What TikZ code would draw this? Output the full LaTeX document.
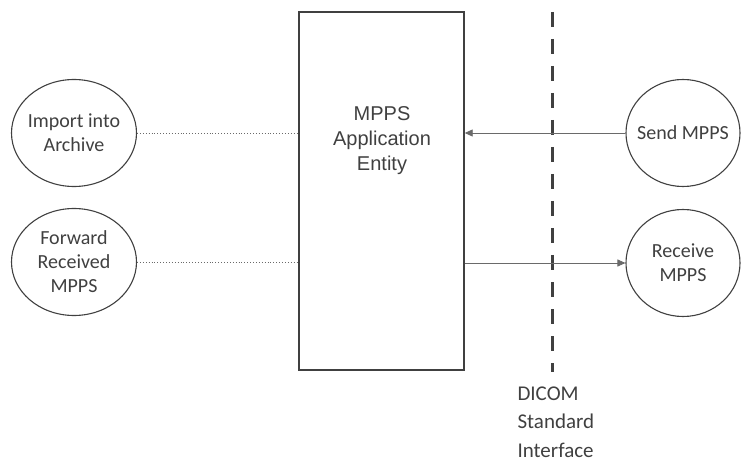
\documentclass[tikz,border=0pt]{standalone}
\usepackage{fontspec}
\setmainfont{Carlito}
\newfontfamily\arialfont{Liberation Sans}
\usetikzlibrary{shapes.geometric,arrows.meta}

\definecolor{inkgray}{HTML}{404040}
\definecolor{linegray}{HTML}{6A6A6A}

\tikzset{
  usecase/.style = {ellipse, draw = inkgray, line width = 1.1pt, text = inkgray,
    minimum width = 125pt, minimum height = 107pt, inner xsep = -20pt, inner ysep = 0pt,
    align = center, font = \fontsize{20}{24}\selectfont},
  flow/.style = {draw = linegray, line width = 0.9pt, -{Triangle[length = 8pt, width = 7pt]}},
  local/.style = {draw = linegray, line width = 0.9pt, dotted}
}

\begin{document}
\begin{tikzpicture}[x = 1pt, y = -1pt]

      \useasboundingbox (0, 0) rectangle (741, 470);

      \node[draw = inkgray, line width = 1.4pt, minimum width = 165pt, minimum height = 358pt,
        inner sep = 0pt] (aebox) at (381.5, 191) {};
      \node[text = inkgray, align = center, font = \arialfont\fontsize{20}{25}\selectfont]
        (aetext) at (382, 141) {MPPS\\Application\\Entity};

      \node[usecase] (import) at (74, 133) {Import into\\Archive};
      \node[usecase] (forward) at (74, 262) {Forward\\Received\\MPPS};
      \node[usecase, minimum width = 114pt] (send) at (683, 133) {Send MPPS};
      \node[usecase, minimum width = 114pt] (receive) at (683, 263) {Receive\\MPPS};

      \coordinate (ifacetop) at (552, 12);
      \coordinate (ifacebot) at (552, 372);
      \draw[inkgray, line width = 3pt, dash pattern = on 15pt off 12pt] (ifacetop) -- (ifacebot);
      \node[anchor = north west, text = inkgray, align = left,
        font = \fontsize{21}{28.5}\selectfont] (ifacetext) at (514, 383)
        {DICOM\\Standard\\Interface};

      \draw[local] (import.east) -- (import.east -| aebox.west);
      \draw[local] (forward.east) -- (forward.east -| aebox.west);
      \draw[flow] (send.west) -- (send.west -| aebox.east);
      \draw[flow] (receive.west -| aebox.east) -- (receive.west);

    \end{tikzpicture}
\end{document}
